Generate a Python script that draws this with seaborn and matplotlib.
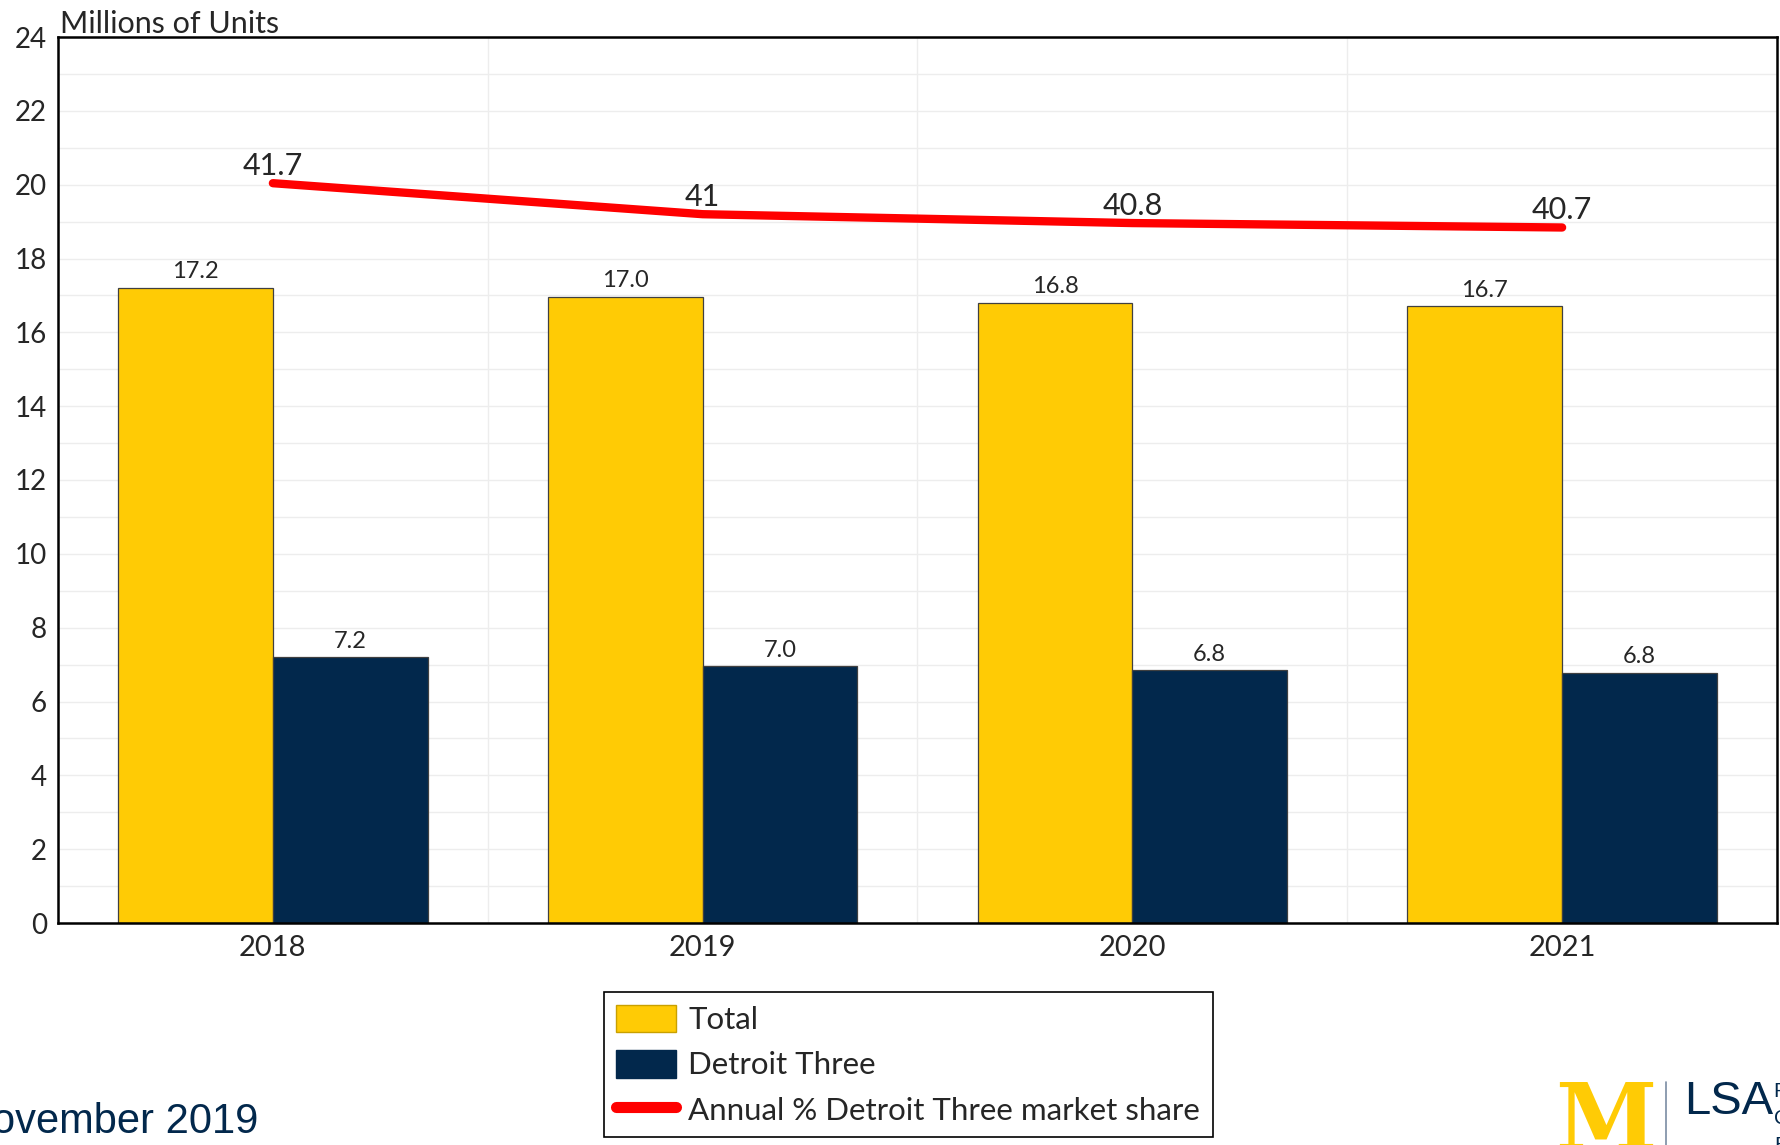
import numpy as np
import pandas as pd
import seaborn as sns
import matplotlib.pyplot as plt
from matplotlib.patches import Patch
from matplotlib.lines import Line2D
from matplotlib.ticker import MultipleLocator

# values
years = ['2018', '2019', '2020', '2021']
total = [17.2, 16.96, 16.8, 16.7]
detroit = [7.2, 6.96, 6.84, 6.78]
share = [41.7, 41.0, 40.8, 40.7]
share_labels = ['41.7', '41', '40.8', '40.7']
series = ['Total', 'Detroit Three']
line_name = 'Annual % Detroit Three market share'

MAIZE = '#FFCB05'
NAVY = '#02284C'
RED = '#FF0000'

sns.set_style('white')
plt.rcParams['font.family'] = ['Lato', 'DejaVu Sans']

df = pd.DataFrame({
    'year': years * 2,
    'series': [series[0]] * len(years) + [series[1]] * len(years),
    'value': total + detroit,
})

W, H = 1781, 1145
fig = plt.figure(figsize=(W / 100, H / 100), dpi=100)
ax = fig.add_axes([58 / W, 1 - 923 / H, (1777 - 58) / W, (923 - 37) / H])

sns.barplot(data=df, x='year', y='value', hue='series', hue_order=series,
            palette=[MAIZE, NAVY], saturation=1, width=0.72,
            edgecolor='#404040', linewidth=0.9, legend=False, ax=ax)

for c in ax.containers:
    ax.bar_label(c, fmt='%.1f', padding=4, fontsize=17)

ax.set_ylim(0, 24)
ax.set_xlim(-0.5, len(years) - 0.5)
ax.set_yticks(range(0, 25, 2))
ax.yaxis.set_minor_locator(MultipleLocator(1))
ax.set_xticks(np.arange(len(years) - 1) + 0.5, minor=True)
ax.grid(False)
ax.grid(which='both', axis='y', color='#EDEDED', lw=1)
ax.grid(which='minor', axis='x', color='#EDEDED', lw=1)
ax.set_axisbelow(True)
ax.tick_params(which='both', length=0)
ax.tick_params(axis='y', labelsize=20, pad=8)
ax.tick_params(axis='x', labelsize=21, pad=9)
ax.set_xlabel('')
ax.set_ylabel('')
for sp in ax.spines.values():
    sp.set_visible(True)
    sp.set_color('black')
    sp.set_linewidth(1.8)

# market share on a hidden secondary scale
ax2 = ax.twinx()
ax2.set_ylim(25, 45)
sns.lineplot(x=np.arange(len(years)), y=share, ax=ax2, color=RED, lw=6,
             solid_capstyle='round')
for i, (v, s) in enumerate(zip(share, share_labels)):
    ax2.annotate(s, (i, v), xytext=(0, 2.5), textcoords='offset points',
                 ha='center', va='bottom', fontsize=22)
ax2.axis('off')

fig.text(60 / W, 1 - 33 / H, 'Millions of Units', fontsize=22, va='baseline')

handles = [Patch(facecolor=MAIZE, edgecolor='#C9A000'),
           Patch(facecolor=NAVY, edgecolor=NAVY),
           Line2D([], [], color=RED, lw=8, solid_capstyle='round')]
leg = fig.legend(handles, series + [line_name], loc='upper left',
                 bbox_to_anchor=(604 / W, 1 - 992 / H), fontsize=22.5,
                 frameon=True, fancybox=False, framealpha=1, edgecolor='black',
                 borderpad=0.4, handlelength=1.9, handleheight=1.0,
                 handletextpad=0.4, labelspacing=0.5, borderaxespad=0)
leg.get_frame().set_linewidth(1.2)

# footer: date and logo
fig.text(258 / W, 1 - 1133 / H, 'November 2019', ha='right', va='baseline',
         fontsize=30, color=NAVY, family=['Liberation Sans', 'DejaVu Sans'])
fig.text(1555 / W, 1 - 1079 / H, 'M', ha='left', va='top', fontsize=66,
         color=MAIZE, fontweight='bold', family=['DejaVu Serif'])
fig.add_artist(Line2D([1666 / W, 1666 / W], [0, 1 - 1082 / H], color='#7A8CA3',
                      lw=1.2, transform=fig.transFigure))
fig.text(1684 / W, 1 - 1080 / H, 'LSA', ha='left', va='top', fontsize=34,
         color=NAVY, family=['Liberation Sans Narrow', 'Liberation Sans'])
for k, t in enumerate(['Research Seminar in', 'Quantitative', 'Economics']):
    fig.text(1774 / W, 1 - (1082 + 27 * k) / H, t, ha='left', va='top',
             fontsize=15, color=NAVY, family=['Liberation Sans Narrow', 'Liberation Sans'])

fig.savefig('out.png', dpi=100)
